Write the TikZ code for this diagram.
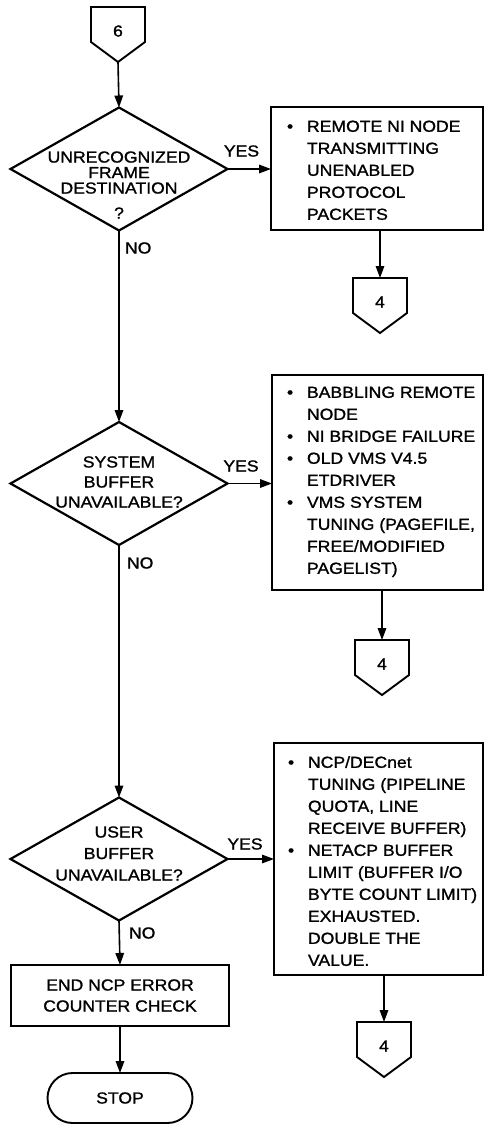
\documentclass[tikz,border=0pt]{standalone}
\usepackage{fontspec}
\setmainfont{Liberation Sans}[FakeStretch=1.1,FakeBold=1.2]
\usetikzlibrary{arrows.meta,shapes.geometric,calc}

% off-page connector: name, centre x, top y, label
\newcommand\offpage[4]{%
  \node (#1) at (#2,#3+24) {#4};
  \draw[shapeline] (#2-27,#3) -- (#2+27,#3) -- (#2+27,#3+35)
    -- (#2,#3+55) -- (#2-27,#3+35) -- cycle;
  \coordinate (#1-in) at (#2,#3);
  \coordinate (#1-out) at (#2,#3+55);
}

\begin{document}
\begin{tikzpicture}[x=1pt,y=-1pt,
  every node/.style={font=\fontsize{16}{22}\selectfont, inner sep=0pt, outer sep=0pt},
  shapeline/.style={draw, line width=1.9pt, line join=miter},
  flow/.style={draw, line width=1.6pt, -{Triangle[length=12pt,width=8.5pt]}},
  decision/.style={draw, line width=2.2pt, diamond, minimum width=217pt, minimum height=123pt},
  notebox/.style={shapeline, rectangle, anchor=north west},
  notetext/.style={anchor=north west, align=left},
  qtext/.style={align=center},
  lbl/.style={anchor=west}
]
\useasboundingbox (0,0) rectangle (485,1125);
\fill[white] (0,0) rectangle (485,1125);

% main column
\offpage{c6}{118}{7}{6}

\node[decision] (d1) at (119,169) {};
\node[qtext, font=\fontsize{16}{15.5}\selectfont] (d1t) at (119,185)
  {UNRECOGNIZED\\FRAME\\DESTINATION\\[9.5pt]?};

\node[decision] (d2) at (119,483.5) {};
\node[qtext, font=\fontsize{16}{20}\selectfont] (d2t) at (119,482)
  {SYSTEM\\BUFFER\\UNAVAILABLE?};

\node[decision] (d3) at (119,859) {};
\node[qtext, font=\fontsize{16}{21.5}\selectfont] (d3t) at (119,853.5)
  {USER\\BUFFER\\UNAVAILABLE?};

\node[shapeline, minimum width=218pt, minimum height=61pt, qtext,
      font=\fontsize{16}{21}\selectfont] (endbox) at (120,995.5)
  {END NCP ERROR\\COUNTER CHECK};

\node[shapeline, rounded corners=25pt, minimum width=145pt, minimum height=50pt]
  (stop) at (120,1098) {STOP};

% cause boxes
\node[notebox, minimum width=212pt, minimum height=123pt] (b1) at (271,107) {};
\node[notetext] (b1t) at (287,116.4) {%
  \begin{tabular}{@{}p{20pt}@{}l@{}}
  \textbullet & REMOTE NI NODE\\
   & TRANSMITTING\\
   & UNENABLED\\
   & PROTOCOL\\
   & PACKETS
  \end{tabular}};

\node[notebox, minimum width=211pt, minimum height=215pt] (b2) at (272,375) {};
\node[notetext] (b2t) at (287,382.4) {%
  \begin{tabular}{@{}p{20pt}@{}l@{}}
  \textbullet & BABBLING REMOTE\\
   & NODE\\
  \textbullet & NI BRIDGE FAILURE\\
  \textbullet & OLD VMS V4.5\\
   & ETDRIVER\\
  \textbullet & VMS SYSTEM\\
   & TUNING (PAGEFILE,\\
   & FREE/MODIFIED\\
   & PAGELIST)
  \end{tabular}};

\node[notebox, minimum width=209pt, minimum height=232pt] (b3) at (274,743) {};
\node[notetext] (b3t) at (288,752.4) {%
  \begin{tabular}{@{}p{20pt}@{}l@{}}
  \textbullet & NCP/DECnet\\
   & TUNING (PIPELINE\\
   & QUOTA, LINE\\
   & RECEIVE BUFFER)\\
  \textbullet & NETACP BUFFER\\
   & LIMIT (BUFFER I/O\\
   & BYTE COUNT LIMIT)\\
   & EXHAUSTED.\\
   & DOUBLE THE\\
   & VALUE.
  \end{tabular}};

\offpage{c4a}{380}{278}{4}
\offpage{c4b}{382}{640}{4}
\offpage{c4c}{384}{1022}{4}

% connectors
\draw[flow] (c6-out) -- (d1.north);
\draw[flow] (d1.east) -- (b1.west |- d1.east);
\draw[flow] (d1.south) -- (d2.north);
\draw[flow] (d2.east) -- (b2.west |- d2.east);
\draw[flow] (d2.south) -- (d3.north);
\draw[flow] (d3.east) -- (b3.west |- d3.east);
\draw[flow] (d3.south) -- (endbox.north);
\draw[flow] (endbox.south) -- (stop.north);
\draw[flow] (b1.south -| c4a-in) -- (c4a-in);
\draw[flow] (b2.south -| c4b-in) -- (c4b-in);
\draw[flow] (b3.south -| c4c-in) -- (c4c-in);

% branch labels
\node (y1) at (241.5,151) {YES};
\node (y2) at (241,466) {YES};
\node (y3) at (245,844) {YES};
\node[lbl] (n1) at (125,248) {NO};
\node[lbl] (n2) at (127,563) {NO};
\node[lbl] (n3) at (129,933) {NO};
\end{tikzpicture}
\end{document}
